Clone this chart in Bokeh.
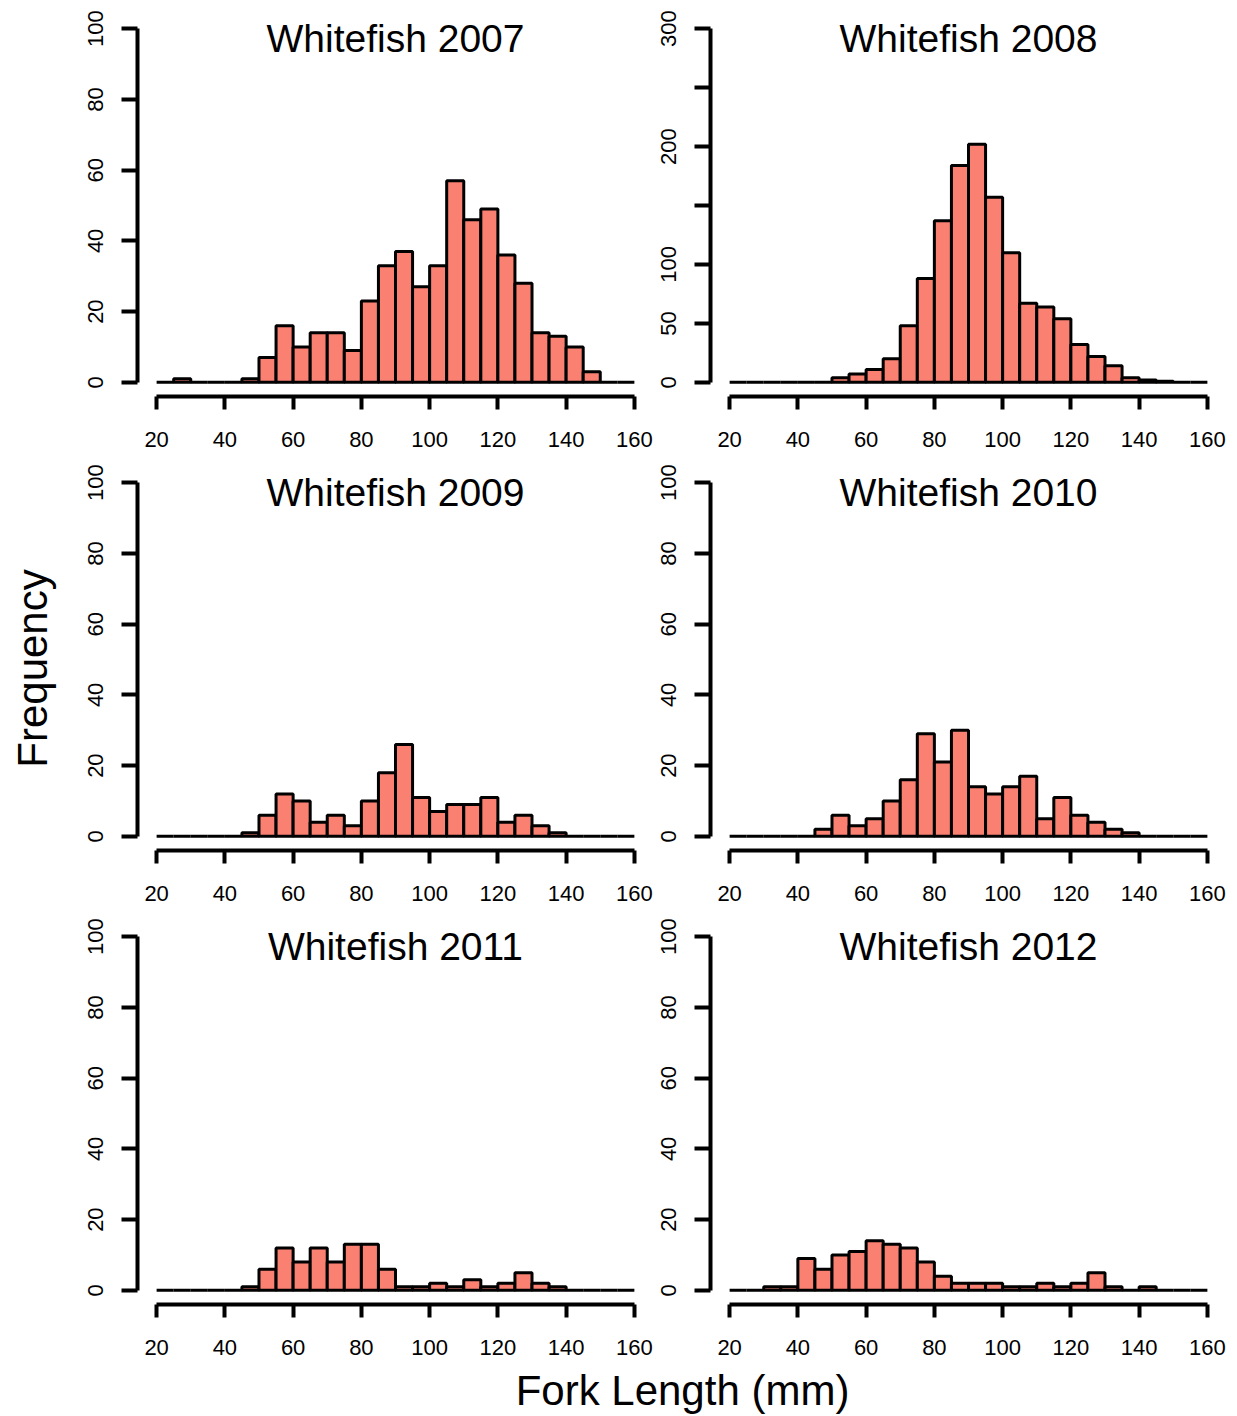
import numpy as np
from bokeh.plotting import figure
from bokeh.models import Range1d, FixedTicker, Label, LinearAxis
from bokeh.layouts import row, column
from bokeh.embed import file_html
from bokeh.resources import INLINE

# ---- data ----
bin_edges = list(range(20, 165, 5))  # 20,25,...,160
years = ["2007", "2008", "2009", "2010", "2011", "2012"]
counts_2007 = [0, 1, 0, 0, 0, 1, 7, 16, 10, 14, 14, 9, 23, 33, 37, 27, 33, 57, 46, 49, 36, 28, 14, 13, 10, 3, 0, 0]
counts_2008 = [0, 0, 0, 0, 0, 0, 4, 7, 11, 20, 48, 88, 137, 184, 202, 157, 110, 67, 64, 54, 32, 22, 14, 4, 2, 1, 0, 0]
counts_2009 = [0, 0, 0, 0, 0, 1, 6, 12, 10, 4, 6, 3, 10, 18, 26, 11, 7, 9, 9, 11, 4, 6, 3, 1, 0, 0, 0, 0]
counts_2010 = [0, 0, 0, 0, 0, 2, 6, 3, 5, 10, 16, 29, 21, 30, 14, 12, 14, 17, 5, 11, 6, 4, 2, 1, 0, 0, 0, 0]
counts_2011 = [0, 0, 0, 0, 0, 1, 6, 12, 8, 12, 8, 13, 13, 6, 1, 1, 2, 1, 3, 1, 2, 5, 2, 1, 0, 0, 0, 0]
counts_2012 = [0, 0, 1, 1, 9, 6, 10, 11, 14, 13, 12, 8, 4, 2, 2, 2, 1, 1, 2, 1, 2, 5, 1, 0, 1, 0, 0, 0]
y_max = [100, 300, 100, 100, 100, 100]
y_ticks_default = [0, 20, 40, 60, 80, 100]
y_ticks_2008 = [0, 50, 100, 150, 200, 250, 300]
x_ticks = [20, 40, 60, 80, 100, 120, 140, 160]
all_counts = [counts_2007, counts_2008, counts_2009, counts_2010, counts_2011, counts_2012]

FONT = "Liberation Sans"
FRAME_W, FRAME_H = 516, 382
BL, BR, BT, BB = 57, 0, 14, 58


def style_axis(ax, tick_out):
    ax.axis_line_width = 4
    ax.axis_line_color = "black"
    ax.major_tick_line_width = 4
    ax.major_tick_line_color = "black"
    ax.major_tick_out = tick_out
    ax.major_tick_in = 0
    ax.minor_tick_out = 0
    ax.minor_tick_in = 0
    ax.major_label_text_font = FONT
    ax.major_label_text_font_size = "22px"
    ax.major_label_text_color = "black"


def panel(year, counts, ymax):
    x0, x1 = 20, 160
    xpad = 0.04 * (x1 - x0)
    ypad = 0.04 * ymax
    p = figure(frame_width=FRAME_W, frame_height=FRAME_H,
               min_border_left=BL, min_border_right=BR,
               min_border_top=BT, min_border_bottom=BB,
               x_range=Range1d(x0 - xpad, x1 + xpad),
               y_range=Range1d(-ypad, ymax + ypad),
               x_axis_location=None, y_axis_location=None,
               toolbar_location=None, output_backend="svg",
               outline_line_color=None, background_fill_color="white",
               border_fill_color="white")
    p.xgrid.visible = False
    p.ygrid.visible = False
    p.quad(left=bin_edges[:-1], right=bin_edges[1:], bottom=0, top=counts,
           fill_color="#FA8072", line_color="black", line_width=3)

    if ymax == 300:
        yticks = y_ticks_2008
        overrides = {150: "", 250: ""}
    else:
        yticks = y_ticks_default
        overrides = {}
    yax = LinearAxis(bounds=(0, ymax), ticker=FixedTicker(ticks=yticks))
    style_axis(yax, 16)
    yax.major_label_orientation = "vertical"
    yax.major_label_standoff = 18
    if overrides:
        yax.major_label_overrides = overrides
    p.add_layout(yax, "left")

    xax = LinearAxis(bounds=(x0, x1), ticker=FixedTicker(ticks=x_ticks))
    style_axis(xax, 13)
    xax.major_label_standoff = 22
    p.add_layout(xax, "below")

    span = ymax + 2 * ypad
    p.add_layout(Label(x=(x0 + x1) / 2, y=ymax + ypad - 24 * span / FRAME_H,
                       text="Whitefish " + year, text_align="center",
                       text_baseline="alphabetic", text_font=FONT,
                       text_font_size="39px", text_color="black"))
    return p


panels = [panel(y, c, m) for y, c, m in zip(years, all_counts, y_max)]
grid = column(row(panels[0], panels[1]), row(panels[2], panels[3]),
              row(panels[4], panels[5]))

LEFT_W = 80
TOTAL_H = 1416
GRID_W = 2 * (BL + FRAME_W + BR)
GRID_H = 3 * (BT + FRAME_H + BB)
BOTTOM_H = TOTAL_H - GRID_H


def blank(w, h):
    f = figure(width=w, height=h, x_range=Range1d(0, w), y_range=Range1d(0, h),
               min_border=0, x_axis_location=None, y_axis_location=None,
               toolbar_location=None, output_backend="svg",
               outline_line_color=None)
    f.xgrid.visible = False
    f.ygrid.visible = False
    return f


left = blank(LEFT_W, TOTAL_H)
left.add_layout(Label(x=32, y=TOTAL_H - 668, text="Frequency", angle=np.pi / 2,
                      text_align="center", text_baseline="middle",
                      text_font=FONT, text_font_size="42px", text_color="black"))

bottom = blank(GRID_W, BOTTOM_H)
bottom.add_layout(Label(x=682 - LEFT_W, y=BOTTOM_H - 28, text="Fork Length (mm)",
                        text_align="center", text_baseline="middle",
                        text_font=FONT, text_font_size="42px", text_color="black"))

layout = row(left, column(grid, bottom))

open("out.html", "w").write(file_html(layout, INLINE))
